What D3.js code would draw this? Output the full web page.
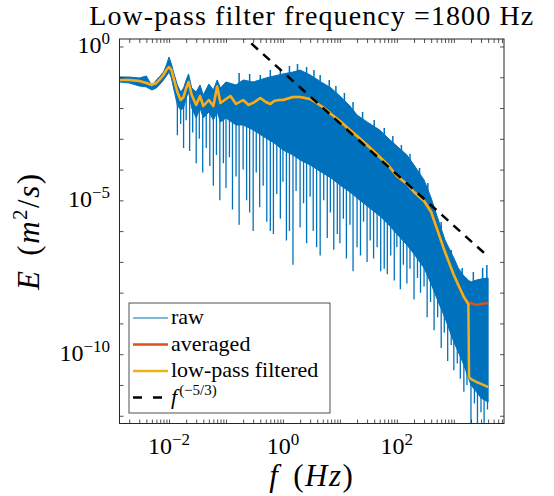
<!DOCTYPE html>
<html>
<head>
<meta charset="utf-8">
<script src="https://cdn.jsdelivr.net/npm/d3@7"></script>
<style>
    body { margin: 0; background: #fff; }
    svg { display: block; }
    text { font-family: "Liberation Serif", "DejaVu Serif", serif; fill: #000; }
</style>
</head>
<body>
<div id="chart"></div>
<script>
// raw spectrum, read as an upper and a lower envelope of the dense band
const rawFreq = [0.00135, 0.002, 0.003, 0.004, 0.005, 0.006, 0.007, 0.008, 0.009, 0.01,
    0.011, 0.012, 0.014, 0.016, 0.018, 0.02, 0.022, 0.025, 0.03, 0.035,
    0.04, 0.05, 0.06, 0.07, 0.08, 0.1, 0.15, 0.2, 0.3, 0.5,
    0.7, 1, 1.5, 2, 3, 5, 7, 10, 15, 20,
    30, 50, 70, 100, 150, 200, 300, 400, 500, 700,
    1000, 1200, 1500, 1800, 1850, 2000, 2500, 3000, 4000];
const rawUpper = [0.102, 0.102, 0.0947, 0.110, 0.052, 0.0815, 0.110, 0.148, 0.251, 0.456,
    0.270, 0.148, 0.0561, 0.0332, 0.0448, 0.0815, 0.128, 0.0448, 0.0332, 0.0561,
    0.0265, 0.0604, 0.0386, 0.0815, 0.0448, 0.0702, 0.0561, 0.0815, 0.0702, 0.0947,
    0.110, 0.128, 0.148, 0.172, 0.1185, 0.0651, 0.0448, 0.0246, 0.01165, 0.00594,
    0.00352, 0.00193, 0.00106, 5.83e-4, 2.98e-4, 1.41e-4, 4.58e-5, 1.19e-5, 3.34e-6, 5.14e-7,
    1.34e-7, 6.32e-8, 3.48e-8, 2.58e-8, 2.45e-8, 2.22e-8, 2.58e-8, 2.78e-8, 2.99e-8];
const rawLower = [0.0702, 0.0651, 0.052, 0.0483, 0.0386, 0.0448, 0.0604, 0.0815, 0.110, 0.148,
    0.0947, 0.0448, 0.01256, 0.00863, 0.01, 0.0212, 0.0332, 0.01, 0.00474, 0.01,
    0.00474, 0.00743, 0.00408, 0.00743, 0.00352, 0.00474, 0.00281, 0.00281, 0.00193, 1.06e-3,
    7.3e-4, 4.33e-4, 2.98e-4, 2.05e-4, 1.41e-4, 7.7e-5, 5.3e-5, 3.15e-5, 1.87e-5, 1.19e-5,
    6.55e-6, 3.1e-6, 1.70e-6, 8.05e-7, 3.54e-7, 1.80e-7, 6.32e-8, 1.91e-8, 6.7e-9, 1.5e-9,
    2.5e-10, 1.18e-10, 4.45e-11, 1.68e-11, 1.5e-11, 9.97e-12, 5.9e-12, 3.77e-12, 2.79e-12];

// downward spikes of the raw spectrum (frequency, lowest value)
const spikeFreq = [0.014, 0.016, 0.018, 0.02, 0.023, 0.026, 0.03, 0.034, 0.039, 0.045,
    0.052, 0.06, 0.068, 0.078, 0.09, 0.1, 0.115, 0.13, 0.15, 0.17,
    0.2, 0.23, 0.26, 0.3, 0.34, 0.39, 0.45, 0.52, 0.6, 0.68,
    0.78, 0.9, 1, 1.15, 1.3, 1.5, 1.7, 2, 2.3, 2.6,
    3, 3.4, 3.9, 4.5, 5.2, 6, 6.8, 7.8, 9, 10,
    11.5, 13, 15, 17, 20, 23, 26, 30, 34, 39,
    45, 52, 60, 68, 78, 90, 100, 115, 130, 150,
    170, 200, 230, 260, 300, 340, 390, 450, 520, 600,
    680, 780, 900, 1000, 1150, 1300, 1500, 1700, 2000, 2300,
    2600, 3000, 3400, 3900];
const spikeE = [1.3e-3, 3e-3, 5e-4, 4e-3, 4e-4, 1.6e-3, 1.6e-4, 1e-3, 8e-5, 5e-4,
    1.3e-4, 3e-5, 3e-4, 1e-5, 1.6e-4, 2.5e-5, 2.5e-4, 5e-6, 6e-5, 1.6e-6,
    1e-4, 1e-5, 4e-6, 1e-6, 8e-5, 6e-6, 3e-5, 2e-6, 1e-6, 8e-7,
    1.6e-5, 2.5e-6, 4e-5, 5e-7, 1e-6, 8e-8, 2e-5, 1.3e-6, 8e-6, 4e-7,
    1.3e-5, 1e-6, 3e-7, 1.6e-7, 1e-5, 6e-7, 4e-6, 2.5e-7, 8e-7, 4e-7,
    2.5e-6, 1.3e-7, 1.6e-6, 5e-8, 3e-7, 1.6e-7, 2e-6, 1e-7, 5e-7, 1.3e-7,
    3e-7, 5e-8, 6e-8, 4e-8, 1.6e-7, 2.5e-8, 3e-7, 1.3e-8, 8e-8, 2e-8,
    6e-8, 6e-9, 3e-8, 1e-8, 1.6e-8, 1.6e-9, 5e-9, 6e-10, 1.6e-9, 1.6e-10,
    5e-10, 6e-11, 2e-10, 3e-11, 5e-11, 1.6e-11, 6e-12, 1e-11, 5e-13, 2.5e-12,
    5e-13, 1.3e-12, 5e-13, 1.6e-12];

// upward peaks along the top edge of the raw band (frequency, highest value)
const peakFreq = [0.17, 0.26, 0.4, 0.6, 0.9, 1.3, 1.8, 2.6, 3.5, 4.5,
    6.5, 8.5, 12, 17, 25, 40, 60, 85, 120, 170,
    250, 350, 600, 900, 1400, 2200, 3200, 3800];
const peakE = [0.138, 0.128, 0.1185, 0.172, 0.2, 0.232, 0.27, 0.216, 0.172, 0.1185,
    0.0815, 0.052, 0.0308, 0.0157, 0.00743, 0.00408, 0.00224, 0.00123, 6.29e-4, 3.2e-4,
    1.12e-4, 3.66e-5, 1.98e-6, 2.43e-7, 6.32e-8, 4.69e-8, 6.32e-8, 7.9e-8];

// averaged and low-pass filtered spectra
const smoothFreq = [0.00135, 0.002, 0.003, 0.004, 0.005, 0.006, 0.007, 0.008, 0.009, 0.01,
    0.011, 0.012, 0.014, 0.016, 0.018, 0.02, 0.022, 0.025, 0.03, 0.035,
    0.04, 0.05, 0.06, 0.07, 0.08, 0.1, 0.12, 0.15, 0.2, 0.25,
    0.3, 0.4, 0.5, 0.6, 0.7, 0.85, 1, 1.5, 2, 3,
    5, 7, 10, 15, 20, 30, 50, 70, 100, 150,
    200, 300, 400, 500, 700, 1000, 1200, 1500, 1800, 1850,
    2000, 2500, 3000, 4000];
const averagedE = [0.0815, 0.0815, 0.0757, 0.0651, 0.0561, 0.0651, 0.0879, 0.1185, 0.172, 0.216,
    0.172, 0.0947, 0.0332, 0.0182, 0.0229, 0.0448, 0.0702, 0.0265, 0.01256, 0.0246,
    0.01165, 0.0182, 0.01165, 0.05, 0.0146, 0.0197, 0.0246, 0.0135, 0.0182, 0.01256,
    0.0146, 0.0212, 0.0157, 0.0135, 0.0169, 0.0182, 0.0182, 0.0229, 0.0229, 0.0197,
    0.0108, 0.0064, 0.00379, 0.00193, 0.00123, 6.29e-4, 2.56e-4, 1.41e-4, 6.18e-5, 3.40e-5,
    1.87e-5, 9.5e-6, 4.18e-6, 1.26e-6, 2.09e-7, 3.75e-8, 1.77e-8, 7.22e-9, 4.28e-9, 4.4e-9,
    4.61e-9, 3.97e-9, 4.28e-9, 4.61e-9];
const lowPassE = [0.0815, 0.0815, 0.0757, 0.0651, 0.0561, 0.0651, 0.0879, 0.1185, 0.172, 0.216,
    0.172, 0.0947, 0.0332, 0.0182, 0.0229, 0.0448, 0.0702, 0.0265, 0.01256, 0.0246,
    0.01165, 0.0182, 0.01165, 0.05, 0.0146, 0.0197, 0.0246, 0.0135, 0.0182, 0.01256,
    0.0146, 0.0212, 0.0157, 0.0135, 0.0169, 0.0182, 0.0182, 0.0229, 0.0229, 0.0197,
    0.0108, 0.0064, 0.00379, 0.00193, 0.00123, 6.29e-4, 2.56e-4, 1.41e-4, 6.18e-5, 3.40e-5,
    1.87e-5, 9.5e-6, 4.18e-6, 1.26e-6, 2.09e-7, 3.75e-8, 1.77e-8, 7.22e-9, 4.28e-9, 1.82e-11,
    1.56e-11, 1.25e-11, 1.08e-11, 8.6e-12];

// f^(-5/3) reference line end points
const kolmoFreq = [0.0014, 4000];
const kolmoE = [8.4e3, 1.49e-7];

const xTickLabels = [1e-2, 1e0, 1e2];
const yTickLabels = [1e-10, 1e-5, 1e0];
const legendLabels = ["raw", "averaged", "low-pass filtered", "f^(−5/3)"];
const cutoffHz = 1800;

const colors = {raw: "#0072BD", averaged: "#D95319", lowPass: "#EDB120", axis: "#262626"};

const width = 554, height = 496;
const box = {left: 119.5, right: 504, top: 39, bottom: 423.5};

const svg = d3.select("#chart").append("svg")
    .attr("width", width)
    .attr("height", height);

const x = d3.scaleLog().domain([1.35e-3, 7.6e3]).range([box.left, box.right]);
const y = d3.scaleLog().domain([5.6e-13, 1.75]).range([box.bottom, box.top]);

svg.append("clipPath").attr("id", "plot-clip")
    .append("rect")
    .attr("x", box.left).attr("y", box.top)
    .attr("width", box.right - box.left).attr("height", box.bottom - box.top);

const plot = svg.append("g").attr("clip-path", "url(#plot-clip)");

// interpolate a trace in log-log space (start point of each spike)
function logInterp(fs, es, f) {
    const i = Math.max(0, Math.min(fs.length - 2, d3.bisectRight(fs, f) - 1));
    const t = (Math.log10(f) - Math.log10(fs[i])) / (Math.log10(fs[i + 1]) - Math.log10(fs[i]));
    return Math.pow(10, Math.log10(es[i]) + t * (Math.log10(es[i + 1]) - Math.log10(es[i])));
}

// raw band
const band = rawFreq.map((f, i) => ({f: f, hi: rawUpper[i], lo: rawLower[i]}));
plot.append("path")
    .datum(band)
    .attr("fill", colors.raw)
    .attr("stroke", colors.raw)
    .attr("stroke-width", 1)
    .attr("d", d3.area().x(d => x(d.f)).y0(d => y(d.lo)).y1(d => y(d.hi)));

plot.append("g").selectAll("line")
    .data(spikeFreq.map((f, i) => ({f: f, e: spikeE[i]})))
    .join("line")
    .attr("x1", d => x(d.f)).attr("x2", d => x(d.f))
    .attr("y1", d => y(logInterp(rawFreq, rawLower, d.f)) - 2)
    .attr("y2", d => y(d.e))
    .attr("stroke", colors.raw)
    .attr("stroke-width", 1.3);

plot.append("g").selectAll("line")
    .data(peakFreq.map((f, i) => ({f: f, e: peakE[i]})))
    .join("line")
    .attr("x1", d => x(d.f)).attr("x2", d => x(d.f))
    .attr("y1", d => y(logInterp(rawFreq, rawUpper, d.f)) + 2)
    .attr("y2", d => y(d.e))
    .attr("stroke", colors.raw)
    .attr("stroke-width", 1.5);

const line = d3.line().x(d => x(d[0])).y(d => y(d[1]));

plot.append("path")
    .datum(smoothFreq.map((f, i) => [f, averagedE[i]]))
    .attr("fill", "none")
    .attr("stroke", colors.averaged)
    .attr("stroke-width", 2.5)
    .attr("stroke-linejoin", "round")
    .attr("d", line);

plot.append("path")
    .datum(smoothFreq.map((f, i) => [f, lowPassE[i]]))
    .attr("fill", "none")
    .attr("stroke", colors.lowPass)
    .attr("stroke-width", 2.5)
    .attr("stroke-linejoin", "round")
    .attr("d", line);

plot.append("path")
    .datum(kolmoFreq.map((f, i) => [f, kolmoE[i]]))
    .attr("fill", "none")
    .attr("stroke", "#000")
    .attr("stroke-width", 2.5)
    .attr("stroke-dasharray", "9,7")
    .attr("d", line);

// ticks: every decade plus 2..9 minors on x, decades only on y
const xTicks = [];
for (let k = -3; k <= 3; k++) {
    for (let m = 1; m <= 9; m++) {
        const v = m * Math.pow(10, k);
        if (v >= x.domain()[0] && v <= x.domain()[1]) xTicks.push(v);
    }
}
const yTicks = d3.range(-12, 1).map(k => Math.pow(10, k));

const tickLen = 4;
svg.append("g").attr("transform", `translate(0,${box.bottom})`)
    .call(d3.axisBottom(x).tickValues(xTicks).tickSizeInner(-tickLen).tickSizeOuter(0).tickFormat(""));
svg.append("g").attr("transform", `translate(0,${box.top})`)
    .call(d3.axisTop(x).tickValues(xTicks).tickSizeInner(-tickLen).tickSizeOuter(0).tickFormat(""));
svg.append("g").attr("transform", `translate(${box.left},0)`)
    .call(d3.axisLeft(y).tickValues(yTicks).tickSizeInner(-tickLen).tickSizeOuter(0).tickFormat(""));
svg.append("g").attr("transform", `translate(${box.right},0)`)
    .call(d3.axisRight(y).tickValues(yTicks).tickSizeInner(-tickLen).tickSizeOuter(0).tickFormat(""));
svg.selectAll(".domain").remove();
svg.selectAll(".tick line").attr("stroke", colors.axis).attr("stroke-width", 0.8);

svg.append("rect")
    .attr("x", box.left).attr("y", box.top)
    .attr("width", box.right - box.left).attr("height", box.bottom - box.top)
    .attr("fill", "none")
    .attr("stroke", colors.axis)
    .attr("stroke-width", 1);

// power-of-ten labels
function powerLabel(sel, v) {
    const e = Math.round(Math.log10(v));
    sel.append("tspan").text("10");
    sel.append("tspan").attr("font-size", 17).attr("dy", -9)
        .text(e < 0 ? "\u2212" + (-e) : String(e));
}

xTickLabels.forEach(v => {
    svg.append("text")
        .attr("x", x(v)).attr("y", 454)
        .attr("text-anchor", "middle")
        .attr("font-size", 24)
        .call(powerLabel, v);
});
yTickLabels.forEach(v => {
    svg.append("text")
        .attr("x", 110).attr("y", y(v) + 7)
        .attr("text-anchor", "end")
        .attr("font-size", 24)
        .call(powerLabel, v);
});

// title
svg.append("text")
    .attr("x", (box.left + box.right) / 2).attr("y", 25)
    .attr("text-anchor", "middle")
    .attr("font-size", 28)
    .attr("letter-spacing", 1.1)
    .text("Low-pass filter frequency =" + cutoffHz + " Hz");

// axis labels
const xLabel = svg.append("text")
    .attr("x", (box.left + box.right) / 2).attr("y", 486)
    .attr("text-anchor", "middle")
    .attr("font-size", 31)
    .attr("letter-spacing", 1.5);
xLabel.append("tspan").attr("font-style", "italic").text("f");
xLabel.append("tspan").attr("dx", 14).text("(");
xLabel.append("tspan").attr("font-style", "italic").text("Hz");
xLabel.append("tspan").text(")");

const yLabel = svg.append("text")
    .attr("transform", `translate(39,${(box.top + box.bottom) / 2}) rotate(-90)`)
    .attr("text-anchor", "middle")
    .attr("font-size", 31)
    .attr("letter-spacing", 1.5);
yLabel.append("tspan").attr("font-style", "italic").text("E");
yLabel.append("tspan").attr("dx", 14).text("(");
yLabel.append("tspan").attr("font-style", "italic").text("m");
yLabel.append("tspan").attr("font-size", 21).attr("dy", -12).text("2");
yLabel.append("tspan").attr("dy", 12).text("/");
yLabel.append("tspan").attr("font-style", "italic").text("s");
yLabel.append("tspan").text(")");

// legend
const legend = svg.append("g");
legend.append("rect")
    .attr("x", 129).attr("y", 303)
    .attr("width", 201).attr("height", 110)
    .attr("fill", "#fff")
    .attr("stroke", colors.axis)
    .attr("stroke-width", 0.8);

const legendStyles = [
    {color: colors.raw, w: 1, dash: null},
    {color: colors.averaged, w: 2.5, dash: null},
    {color: colors.lowPass, w: 2.5, dash: null},
    {color: "#000", w: 2.5, dash: "9,11"}
];
legendLabels.forEach((label, i) => {
    const ly = 318 + i * 26.5;
    legend.append("line")
        .attr("x1", 133).attr("x2", 168)
        .attr("y1", ly).attr("y2", ly)
        .attr("stroke", legendStyles[i].color)
        .attr("stroke-width", legendStyles[i].w)
        .attr("stroke-dasharray", legendStyles[i].dash);
    const t = legend.append("text")
        .attr("x", 171).attr("y", ly + 6)
        .attr("font-size", 22);
    if (label.startsWith("f^")) {
        t.append("tspan").attr("font-style", "italic").text("f");
        t.append("tspan").attr("font-size", 15).attr("dx", 2).attr("dy", -9).text(label.slice(2));
    } else {
        t.text(label);
    }
});
</script>
</body>
</html>
